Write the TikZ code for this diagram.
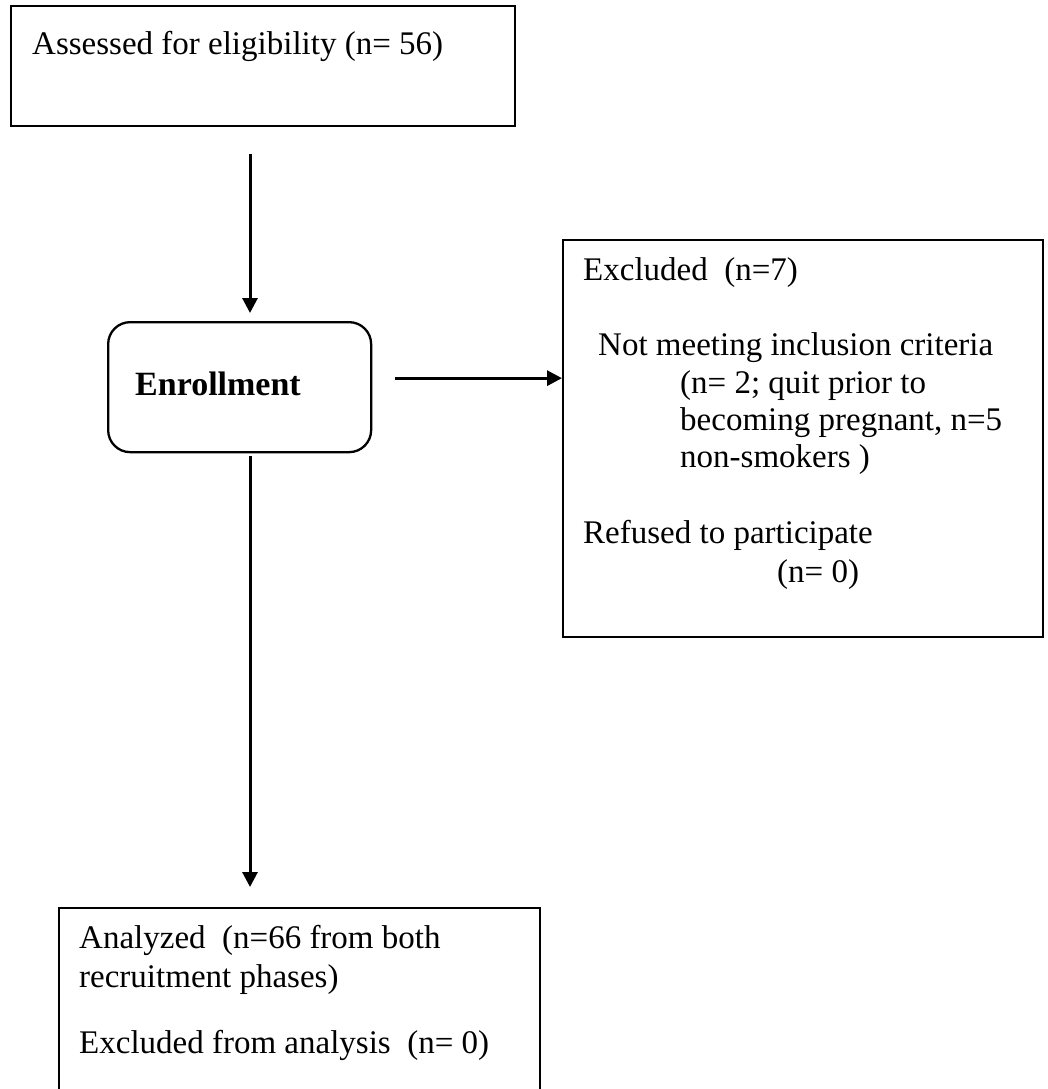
\documentclass[tikz,border=0pt]{standalone}
\usepackage{fontspec}
\setmainfont{Liberation Serif}
\usetikzlibrary{arrows.meta}
\tikzset{
	box/.style={draw, line width=2.3pt, rectangle, anchor=north west, inner sep=0pt},
	arr/.style={line width=3pt, -{Triangle[length=15pt,width=15pt]}},
	txt/.style={anchor=base west, inner sep=0pt, font=\fontsize{33}{39}\selectfont}
}

\begin{document}
\begin{tikzpicture}[x=1pt, y=-1pt]
		%%%%% START %%%%%
		\useasboundingbox (0, 0) rectangle (1047, 1089);
		
		\node[box, minimum width=504, minimum height=120] (assess) at (10, 5) {};
		\node[txt] (assesstxt) at (32, 55) {Assessed for eligibility (n= 56)};
		
		\node[box, rounded corners=22pt, minimum width=263, minimum height=130] (enroll) at (107, 321) {};
		\node[txt, font=\fontsize{34}{40}\selectfont\bfseries] (enrolltxt) at (135, 395) {Enrollment};
		
		\node[box, minimum width=480, minimum height=397] (excl) at (562, 239) {};
		\node[txt] (excla) at (583, 280) {Excluded~~(n=7)};
		\node[txt] (exclb) at (598, 355) {Not meeting inclusion criteria};
		\node[txt] (exclc) at (680, 393) {(n= 2; quit prior to};
		\node[txt] (excld) at (680, 430) {becoming pregnant, n=5};
		\node[txt] (excle) at (680, 467) {non-smokers )};
		\node[txt] (exclf) at (583, 543) {Refused to participate};
		\node[txt] (exclg) at (777, 582) {(n= 0)};
		
		\node[box, minimum width=481, minimum height=230] (anal) at (58, 907) {};
		\node[txt] (anala) at (79, 948) {Analyzed~~(n=66 from both};
		\node[txt] (analb) at (79, 987) {recruitment phases)};
		\node[txt] (analc) at (79, 1053) {Excluded from analysis~~(n= 0)};
		
		\coordinate (spine) at (250, 0);
		\draw[arr, shorten <=27pt, shorten >=8pt] (assess.south -| spine) -- (enroll.north -| spine);
		\draw[arr, shorten <=23pt] ([yshift=9pt]enroll.east) -- ([yshift=9pt]enroll.east -| excl.west);
		\draw[arr, shorten <=3pt, shorten >=20pt] (enroll.south -| spine) -- (anal.north -| spine);
		
		%%%%% END %%%%%
	\end{tikzpicture}
\end{document}
